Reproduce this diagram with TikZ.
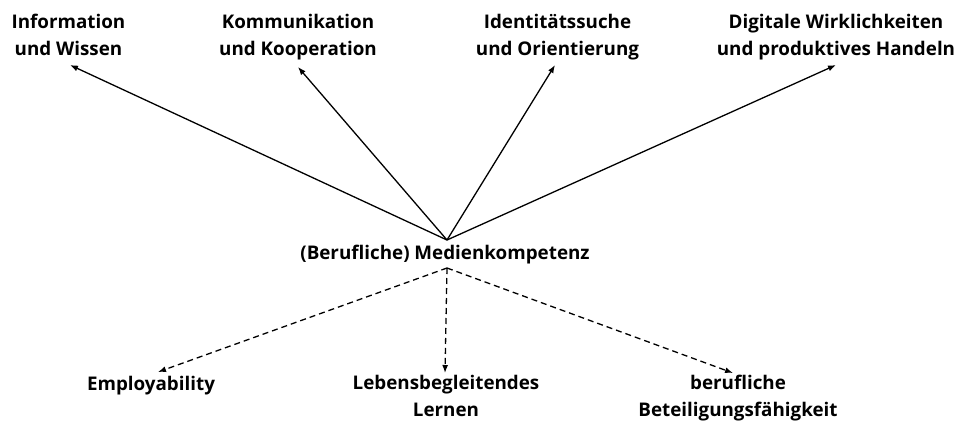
\documentclass[tikz,border=0pt]{standalone}
\usepackage{fontspec}
\setmainfont{Open Sans}
\usetikzlibrary{arrows.meta}
\begin{document}
\begin{tikzpicture}[x=1pt,y=-1pt,
  lbl/.style={font=\bfseries\fontsize{18.8}{27}\selectfont, align=center, inner sep=0pt, text depth=0pt, anchor=base},
  arr/.style={line width=1.3pt, -{Latex[length=8pt,width=6pt]}},
  darr/.style={arr, dash pattern=on 6pt off 4pt}]
\useasboundingbox (0,0) rectangle (961,421);
% top labels (anchor at baseline of last line)
\node[lbl] (info)  at (68.5,55) {Information\\und Wissen};
\node[lbl] (komm)  at (298,55) {Kommunikation\\und Kooperation};
\node[lbl] (ident) at (557.5,55) {Identitätssuche\\und Orientierung};
\node[lbl] (digi)  at (836,55) {Digitale Wirklichkeiten\\und produktives Handeln};
% centre
\node[lbl] (med) at (445,259) {(Berufliche) Medienkompetenz};
% bottom labels
\node[lbl] (emp)   at (151,390) {Employability};
\node[lbl] (leben) at (446,416) {Lebensbegleitendes\\Lernen};
\node[lbl] (beruf) at (738,416) {berufliche\\Beteiligungsfähigkeit};
% hubs
\coordinate (hubup) at ([xshift=2pt,yshift=19pt]med.base);
\coordinate (hubdown) at ([xshift=2pt,yshift=-9pt]med.base);
% solid arrows
\draw[arr] (hubup) -- ([xshift=1.5pt,yshift=-10pt]info.base);
\draw[arr] (hubup) -- ([xshift=0pt,yshift=-12pt]komm.base);
\draw[arr] (hubup) -- ([xshift=-2.5pt,yshift=-10pt]ident.base);
\draw[arr] (hubup) -- ([xshift=0pt,yshift=-10pt]digi.base);
% dashed arrows
\draw[darr] (hubdown) -- ([xshift=7pt,yshift=18pt]emp.base);
\draw[darr] (hubdown) -- ([xshift=-1pt,yshift=43pt]leben.base);
\draw[darr] (hubdown) -- ([xshift=-5pt,yshift=43pt]beruf.base);
\end{tikzpicture}
\end{document}
